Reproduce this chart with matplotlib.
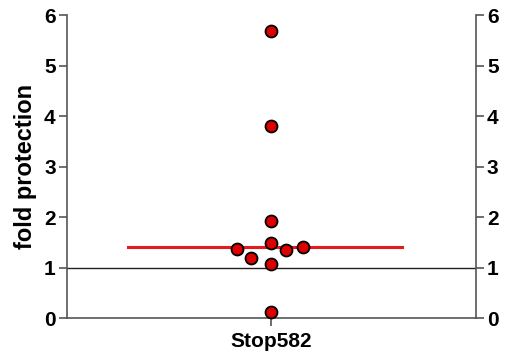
import matplotlib
matplotlib.use('Agg')
import matplotlib.pyplot as plt
import numpy as np

plt.rcParams['font.family'] = ['Liberation Sans', 'DejaVu Sans']

# data
category = 'Stop582'
values = [5.69, 3.81, 1.92, 1.48, 1.07, 0.12, 1.36, 1.19, 1.35, 1.40]
x_offsets = [0, 0, 0, 0, 0, 0, -0.166, -0.098, 0.073, 0.156]
summary_line = 1.41
yticks = [0, 1, 2, 3, 4, 5, 6]

fig = plt.figure(figsize=(5.1, 3.61), dpi=100)
ax = fig.add_axes([0.131, 0.119, 0.802, 0.839])

ax.axhline(1, color='#222222', lw=1.0, zorder=1)
ax.plot([-0.70, 0.64], [summary_line, summary_line], color='#e41a1c', lw=2.2, zorder=2)
ax.plot(np.array(x_offsets), values, 'o', ms=8.6, mfc='#dc0000', mec='black',
        mew=1.3, clip_on=False, zorder=3)

ax.set_xlim(-1, 1)
ax.set_ylim(0, 6)
ax.set_xticks([0])
ax.set_xticklabels([category], fontsize=15, fontweight='bold')
ax.set_yticks(yticks)
ax.set_yticklabels([str(t) for t in yticks], fontsize=15, fontweight='bold')
ax.tick_params(axis='y', which='both', left=True, right=True, labelleft=True,
               labelright=True, length=6, width=1.2, color='#555555', pad=2)
ax.tick_params(axis='x', length=6, width=1.2, color='#555555', pad=4)
ax.set_ylabel('fold protection', fontsize=17, fontweight='bold', labelpad=5)

ax.spines['top'].set_visible(False)
for s in ['left', 'right', 'bottom']:
    ax.spines[s].set_color('#555555')
    ax.spines[s].set_linewidth(1.2)

fig.savefig('out.png', dpi=100)
